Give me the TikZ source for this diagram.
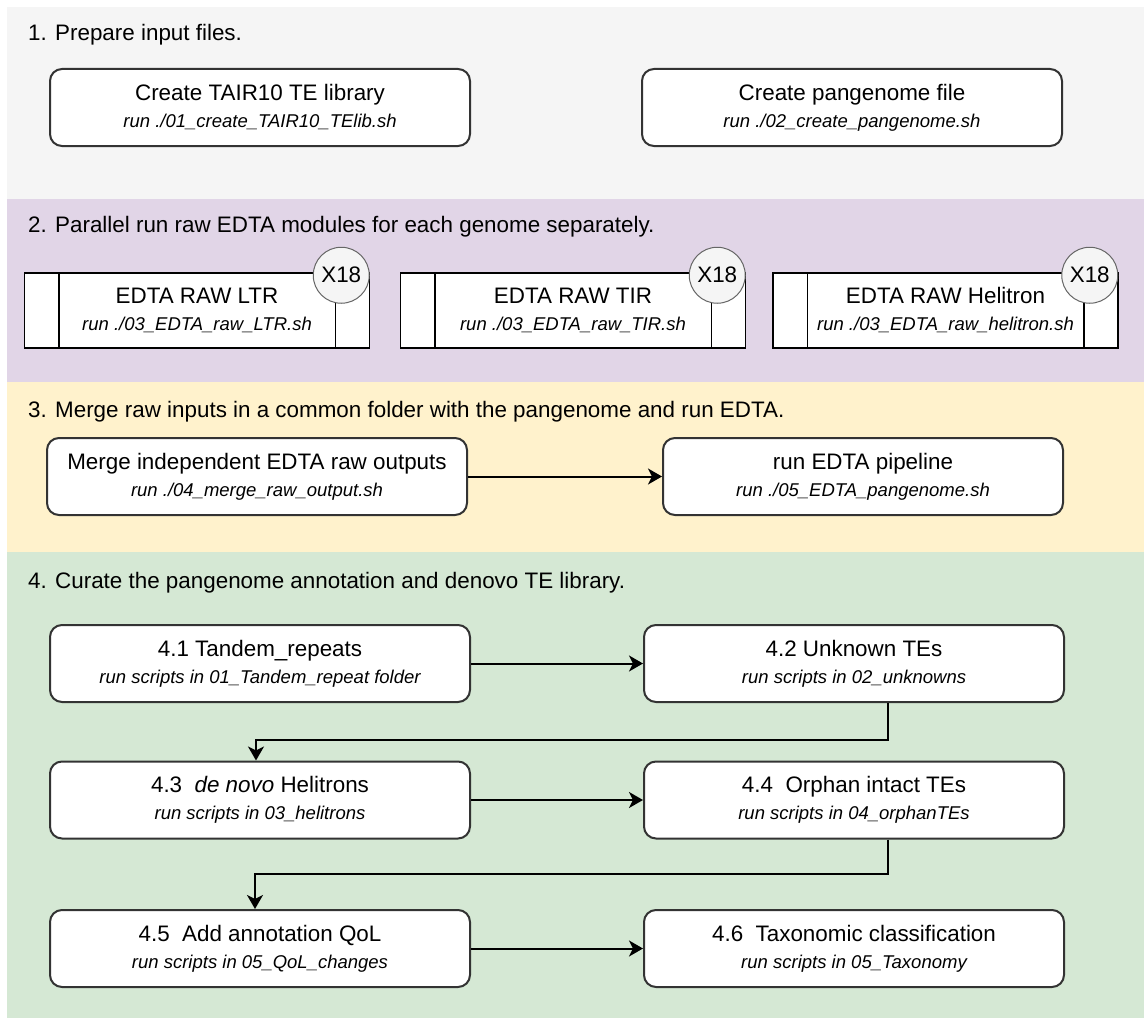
\documentclass[tikz,border=0pt]{standalone}
\usepackage{fontspec}
\setmainfont{Liberation Sans}
\usetikzlibrary{arrows.meta,calc}
\definecolor{secgray}{HTML}{F5F5F5}
\definecolor{secpurple}{HTML}{E1D5E7}
\definecolor{secyellow}{HTML}{FFF2CC}
\definecolor{secgreen}{HTML}{D5E8D4}
\definecolor{boxline}{HTML}{333333}
\definecolor{badgeline}{HTML}{666666}
\newcommand{\runline}[1]{{\itshape\fontsize{18.5}{27}\selectfont #1}}

\begin{document}
\begin{tikzpicture}[x=1pt,y=-1pt,
    font=\fontsize{22.4}{27}\selectfont,
    stepbox/.style={draw=boxline,line width=2pt,fill=white,rounded corners=12pt,
      minimum width=420pt,minimum height=77pt,align=center,inner sep=0pt},
    rawbox/.style={draw=black,line width=1.5pt,fill=white,
      minimum width=345pt,minimum height=75pt,align=center,inner sep=0pt},
    badge/.style={circle,draw=badgeline,fill=secgray,line width=1pt,
      minimum size=56pt,inner sep=0pt},
    title/.style={anchor=west,inner sep=0pt},
    arr/.style={line width=2pt,-{Stealth[length=14pt,width=16pt,inset=4pt]}}]
        \useasboundingbox (0,0) rectangle (1144,1025);
        \fill[secgray] (7,7) rectangle (1144,199);
        \fill[secpurple] (7,199) rectangle (1144,382);
        \fill[secyellow] (7,382) rectangle (1144,552);
        \fill[secgreen] (7,552) rectangle (1144,1018);

        \node[title] (t1) at (28,35) {1. Prepare input files.};
        \node[stepbox] (tairlib) at (260,107.5) {Create TAIR10 TE library\\ \runline{run ./01\_create\_TAIR10\_TElib.sh}};
        \node[stepbox] (pangen) at (852,107.5) {Create pangenome file\\ \runline{run ./02\_create\_pangenome.sh}};

        \node[title] (t2) at (28,227) {2. Parallel run raw EDTA modules for each genome separately.};
        \node[rawbox] (rawltr) at (197,310.5) {EDTA RAW LTR\\ \runline{run ./03\_EDTA\_raw\_LTR.sh}};
        \node[rawbox] (rawtir) at (573,310.5) {EDTA RAW TIR\\ \runline{run ./03\_EDTA\_raw\_TIR.sh}};
        \node[rawbox] (rawhel) at (945.5,310.5) {EDTA RAW Helitron\\ \runline{run ./03\_EDTA\_raw\_helitron.sh}};
        \draw[line width=1.5pt] ([xshift=35pt]rawltr.north west) -- ([xshift=35pt]rawltr.south west);
        \draw[line width=1.5pt] ([xshift=-35pt]rawltr.north east) -- ([xshift=-35pt]rawltr.south east);
        \draw[line width=1.5pt] ([xshift=35pt]rawtir.north west) -- ([xshift=35pt]rawtir.south west);
        \draw[line width=1.5pt] ([xshift=-35pt]rawtir.north east) -- ([xshift=-35pt]rawtir.south east);
        \draw[line width=1.5pt] ([xshift=35pt]rawhel.north west) -- ([xshift=35pt]rawhel.south west);
        \draw[line width=1.5pt] ([xshift=-35pt]rawhel.north east) -- ([xshift=-35pt]rawhel.south east);
        \node[badge] (xltr) at ($(rawltr.north east)+(-29,3)$) {X18};
        \node[badge] (xtir) at ($(rawtir.north east)+(-29,3)$) {X18};
        \node[badge] (xhel) at ($(rawhel.north east)+(-29,3)$) {X18};

        \node[title] (t3) at (28,412) {3. Merge raw inputs in a common folder with the pangenome and run EDTA.};
        \node[stepbox] (merge) at (257,476.5) {Merge independent EDTA raw outputs\\ \runline{run ./04\_merge\_raw\_output.sh}};
        \node[stepbox,minimum width=400pt] (edta) at (863,476.5) {run EDTA pipeline\\ \runline{run ./05\_EDTA\_pangenome.sh}};
        \draw[arr] (merge) -- (edta);

        \node[title] (t4) at (28,583) {4. Curate the pangenome annotation and denovo TE library.};
        \node[stepbox] (tandem) at (260,663.5) {4.1 Tandem\_repeats\\ \runline{run scripts in 01\_Tandem\_repeat folder}};
        \node[stepbox] (unknown) at (854,663.5) {4.2 Unknown TEs\\ \runline{run scripts in 02\_unknowns}};
        \node[stepbox] (helitron) at (260,800) {4.3\ \ \textit{de novo} Helitrons\\ \runline{run scripts in 03\_helitrons}};
        \node[stepbox] (orphan) at (854,800) {4.4\ \ Orphan intact TEs\\ \runline{run scripts in 04\_orphanTEs}};
        \node[stepbox] (qol) at (260,948.5) {4.5\ \ Add annotation QoL\\ \runline{run scripts in 05\_QoL\_changes}};
        \node[stepbox] (taxo) at (854,948.5) {4.6\ \ Taxonomic classification\\ \runline{run scripts in 05\_Taxonomy}};
        \draw[arr] (tandem) -- (unknown);
        \draw[arr] ([xshift=34pt]unknown.south) -- ++(0,37) -| ([xshift=-4pt]helitron.north);
        \draw[arr] (helitron) -- (orphan);
        \draw[arr] ([xshift=34pt]orphan.south) -- ++(0,34) -| ([xshift=-5pt]qol.north);
        \draw[arr] (qol) -- (taxo);
      \end{tikzpicture}
\end{document}
